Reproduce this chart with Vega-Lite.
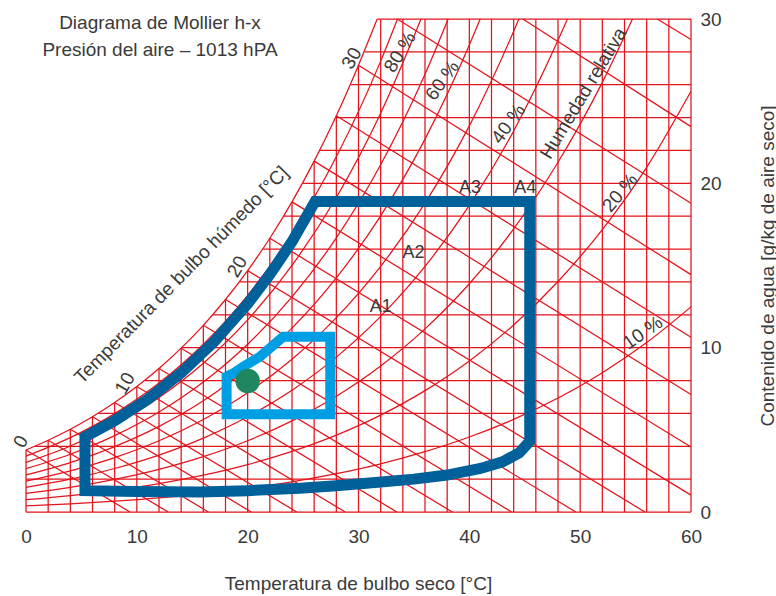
{
  "$schema": "https://vega.github.io/schema/vega-lite/v6.json",
  "width": 665,
  "height": 493,
  "autosize": {"type": "none"},
  "padding": {"left": 26, "top": 19, "right": 85, "bottom": 84},
  "background": "white",
  "config": {"view": {"stroke": null}, "font": "Liberation Sans"},
  "datasets": {
    "segs": [
      {"t": 0, "h": 0, "t2": 0, "h2": 3.775},
      {"t": 2, "h": 0, "t2": 2, "h2": 4.365},
      {"t": 4, "h": 0, "t2": 4, "h2": 5.032},
      {"t": 6, "h": 0, "t2": 6, "h2": 5.795},
      {"t": 8, "h": 0, "t2": 8, "h2": 6.659},
      {"t": 10, "h": 0, "t2": 10, "h2": 7.633},
      {"t": 12, "h": 0, "t2": 12, "h2": 8.729},
      {"t": 14, "h": 0, "t2": 14, "h2": 9.969},
      {"t": 16, "h": 0, "t2": 16, "h2": 11.36},
      {"t": 18, "h": 0, "t2": 18, "h2": 12.93},
      {"t": 20, "h": 0, "t2": 20, "h2": 14.69},
      {"t": 22, "h": 0, "t2": 22, "h2": 16.66},
      {"t": 24, "h": 0, "t2": 24, "h2": 18.87},
      {"t": 26, "h": 0, "t2": 26, "h2": 21.35},
      {"t": 28, "h": 0, "t2": 28, "h2": 24.11},
      {"t": 30, "h": 0, "t2": 30, "h2": 27.19},
      {"t": 32, "h": 0, "t2": 32, "h2": 30},
      {"t": 34, "h": 0, "t2": 34, "h2": 30},
      {"t": 36, "h": 0, "t2": 36, "h2": 30},
      {"t": 38, "h": 0, "t2": 38, "h2": 30},
      {"t": 40, "h": 0, "t2": 40, "h2": 30},
      {"t": 42, "h": 0, "t2": 42, "h2": 30},
      {"t": 44, "h": 0, "t2": 44, "h2": 30},
      {"t": 46, "h": 0, "t2": 46, "h2": 30},
      {"t": 48, "h": 0, "t2": 48, "h2": 30},
      {"t": 50, "h": 0, "t2": 50, "h2": 30},
      {"t": 52, "h": 0, "t2": 52, "h2": 30},
      {"t": 54, "h": 0, "t2": 54, "h2": 30},
      {"t": 56, "h": 0, "t2": 56, "h2": 30},
      {"t": 58, "h": 0, "t2": 58, "h2": 30},
      {"t": 60, "h": 0, "t2": 60, "h2": 30},
      {"t": 0, "h": 0, "t2": 60, "h2": 0},
      {"t": 0, "h": 2, "t2": 60, "h2": 2},
      {"t": 0.795, "h": 4, "t2": 60, "h2": 4},
      {"t": 6.51, "h": 6, "t2": 60, "h2": 6},
      {"t": 10.72, "h": 8, "t2": 60, "h2": 8},
      {"t": 14.07, "h": 10, "t2": 60, "h2": 10},
      {"t": 16.87, "h": 12, "t2": 60, "h2": 12},
      {"t": 19.27, "h": 14, "t2": 60, "h2": 14},
      {"t": 21.39, "h": 16, "t2": 60, "h2": 16},
      {"t": 23.27, "h": 18, "t2": 60, "h2": 18},
      {"t": 24.98, "h": 20, "t2": 60, "h2": 20},
      {"t": 26.53, "h": 22, "t2": 60, "h2": 22},
      {"t": 27.97, "h": 24, "t2": 60, "h2": 24},
      {"t": 29.29, "h": 26, "t2": 60, "h2": 26},
      {"t": 30.53, "h": 28, "t2": 60, "h2": 28},
      {"t": 31.69, "h": 30, "t2": 60, "h2": 30},
      {"t": 0, "h": 3.775, "t2": 9.385, "h2": 0},
      {"t": 2, "h": 4.365, "t2": 12.832, "h2": 0},
      {"t": 4, "h": 5.032, "t2": 16.463, "h2": 0},
      {"t": 6, "h": 5.795, "t2": 20.326, "h2": 0},
      {"t": 8, "h": 6.659, "t2": 24.432, "h2": 0},
      {"t": 10, "h": 7.633, "t2": 28.8, "h2": 0},
      {"t": 12, "h": 8.729, "t2": 33.459, "h2": 0},
      {"t": 14, "h": 9.969, "t2": 38.461, "h2": 0},
      {"t": 16, "h": 11.36, "t2": 43.822, "h2": 0},
      {"t": 18, "h": 12.93, "t2": 49.607, "h2": 0},
      {"t": 20, "h": 14.69, "t2": 55.841, "h2": 0},
      {"t": 22, "h": 16.66, "t2": 60, "h2": 1.026},
      {"t": 24, "h": 18.87, "t2": 60, "h2": 3.951},
      {"t": 26, "h": 21.35, "t2": 60, "h2": 7.15},
      {"t": 28, "h": 24.11, "t2": 60, "h2": 10.634},
      {"t": 30, "h": 27.19, "t2": 60, "h2": 14.445},
      {"t": 33.5, "h": 30, "t2": 60, "h2": 18.79},
      {"t": 44.82, "h": 30, "t2": 60, "h2": 23.45},
      {"t": 56.95, "h": 30, "t2": 60, "h2": 28.75}
    ],
    "curves": [
      {"c": "sat", "t": 0, "h": 3.775}, {"c": "sat", "t": 2, "h": 4.365}, {"c": "sat", "t": 4, "h": 5.032}, {"c": "sat", "t": 6, "h": 5.795}, {"c": "sat", "t": 8, "h": 6.659}, {"c": "sat", "t": 10, "h": 7.633}, {"c": "sat", "t": 12, "h": 8.729}, {"c": "sat", "t": 14, "h": 9.969}, {"c": "sat", "t": 16, "h": 11.36}, {"c": "sat", "t": 18, "h": 12.93}, {"c": "sat", "t": 20, "h": 14.69}, {"c": "sat", "t": 22, "h": 16.66}, {"c": "sat", "t": 24, "h": 18.87}, {"c": "sat", "t": 26, "h": 21.35}, {"c": "sat", "t": 28, "h": 24.11}, {"c": "sat", "t": 30, "h": 27.19}, {"c": "sat", "t": 31.69, "h": 30},
      {"c": "90", "t": 0, "h": 3.396}, {"c": "90", "t": 4, "h": 4.525}, {"c": "90", "t": 8, "h": 5.987}, {"c": "90", "t": 12, "h": 7.845}, {"c": "90", "t": 16, "h": 10.206}, {"c": "90", "t": 20, "h": 13.188}, {"c": "90", "t": 24, "h": 16.933}, {"c": "90", "t": 28, "h": 21.614}, {"c": "90", "t": 32, "h": 27.436}, {"c": "90", "t": 33.52, "h": 30},
      {"c": "80", "t": 0, "h": 3.017}, {"c": "80", "t": 4, "h": 4.019}, {"c": "80", "t": 8, "h": 5.316}, {"c": "80", "t": 12, "h": 6.964}, {"c": "80", "t": 16, "h": 9.055}, {"c": "80", "t": 20, "h": 11.696}, {"c": "80", "t": 24, "h": 15.007}, {"c": "80", "t": 28, "h": 19.139}, {"c": "80", "t": 32, "h": 24.268}, {"c": "80", "t": 35.64, "h": 30},
      {"c": "70", "t": 0, "h": 2.638}, {"c": "70", "t": 4, "h": 3.514}, {"c": "70", "t": 8, "h": 4.646}, {"c": "70", "t": 12, "h": 6.085}, {"c": "70", "t": 16, "h": 7.909}, {"c": "70", "t": 20, "h": 10.21}, {"c": "70", "t": 24, "h": 13.091}, {"c": "70", "t": 28, "h": 16.683}, {"c": "70", "t": 32, "h": 21.132}, {"c": "70", "t": 36, "h": 26.633}, {"c": "70", "t": 38.09, "h": 30},
      {"c": "60", "t": 0, "h": 2.26}, {"c": "60", "t": 4, "h": 3.01}, {"c": "60", "t": 8, "h": 3.978}, {"c": "60", "t": 12, "h": 5.208}, {"c": "60", "t": 16, "h": 6.767}, {"c": "60", "t": 20, "h": 8.731}, {"c": "60", "t": 24, "h": 11.187}, {"c": "60", "t": 28, "h": 14.245}, {"c": "60", "t": 32, "h": 18.025}, {"c": "60", "t": 36, "h": 22.689}, {"c": "60", "t": 40, "h": 28.412}, {"c": "60", "t": 40.98, "h": 30},
      {"c": "50", "t": 0, "h": 1.882}, {"c": "50", "t": 4, "h": 2.506}, {"c": "50", "t": 8, "h": 3.312}, {"c": "50", "t": 12, "h": 4.334}, {"c": "50", "t": 16, "h": 5.629}, {"c": "50", "t": 20, "h": 7.259}, {"c": "50", "t": 24, "h": 9.295}, {"c": "50", "t": 28, "h": 11.826}, {"c": "50", "t": 32, "h": 14.949}, {"c": "50", "t": 36, "h": 18.793}, {"c": "50", "t": 40, "h": 23.498}, {"c": "50", "t": 44, "h": 29.252}, {"c": "50", "t": 44.47, "h": 30},
      {"c": "40", "t": 0, "h": 1.505}, {"c": "40", "t": 4, "h": 2.003}, {"c": "40", "t": 8, "h": 2.647}, {"c": "40", "t": 12, "h": 3.463}, {"c": "40", "t": 16, "h": 4.495}, {"c": "40", "t": 20, "h": 5.793}, {"c": "40", "t": 24, "h": 7.414}, {"c": "40", "t": 28, "h": 9.425}, {"c": "40", "t": 32, "h": 11.902}, {"c": "40", "t": 36, "h": 14.945}, {"c": "40", "t": 40, "h": 18.657}, {"c": "40", "t": 44, "h": 23.184}, {"c": "40", "t": 48, "h": 28.7}, {"c": "40", "t": 48.85, "h": 30},
      {"c": "30", "t": 0, "h": 1.128}, {"c": "30", "t": 4, "h": 1.501}, {"c": "30", "t": 8, "h": 1.983}, {"c": "30", "t": 12, "h": 2.593}, {"c": "30", "t": 16, "h": 3.365}, {"c": "30", "t": 20, "h": 4.335}, {"c": "30", "t": 24, "h": 5.544}, {"c": "30", "t": 28, "h": 7.042}, {"c": "30", "t": 32, "h": 8.884}, {"c": "30", "t": 36, "h": 11.141}, {"c": "30", "t": 40, "h": 13.888}, {"c": "30", "t": 44, "h": 17.227}, {"c": "30", "t": 48, "h": 21.28}, {"c": "30", "t": 52, "h": 26.143}, {"c": "30", "t": 54.72, "h": 30},
      {"c": "20", "t": 0, "h": 0.751}, {"c": "20", "t": 4, "h": 1.0}, {"c": "20", "t": 8, "h": 1.321}, {"c": "20", "t": 12, "h": 1.727}, {"c": "20", "t": 16, "h": 2.239}, {"c": "20", "t": 20, "h": 2.883}, {"c": "20", "t": 24, "h": 3.685}, {"c": "20", "t": 28, "h": 4.677}, {"c": "20", "t": 32, "h": 5.895}, {"c": "20", "t": 36, "h": 7.384}, {"c": "20", "t": 40, "h": 9.191}, {"c": "20", "t": 44, "h": 11.38}, {"c": "20", "t": 48, "h": 14.027}, {"c": "20", "t": 52, "h": 17.188}, {"c": "20", "t": 56, "h": 20.971}, {"c": "20", "t": 60, "h": 25.6},
      {"c": "10", "t": 0, "h": 0.375}, {"c": "10", "t": 4, "h": 0.5}, {"c": "10", "t": 8, "h": 0.66}, {"c": "10", "t": 12, "h": 0.862}, {"c": "10", "t": 16, "h": 1.118}, {"c": "10", "t": 20, "h": 1.438}, {"c": "10", "t": 24, "h": 1.837}, {"c": "10", "t": 28, "h": 2.33}, {"c": "10", "t": 32, "h": 2.933}, {"c": "10", "t": 36, "h": 3.67}, {"c": "10", "t": 40, "h": 4.562}, {"c": "10", "t": 44, "h": 5.638}, {"c": "10", "t": 48, "h": 6.935}, {"c": "10", "t": 52, "h": 8.477}, {"c": "10", "t": 56, "h": 10.312}, {"c": "10", "t": 60, "h": 12.483}
    ],
    "zone": [
      {"o": 0, "t": 36, "h": 18.89}, {"o": 1, "t": 45.45, "h": 18.89}, {"o": 2, "t": 45.45, "h": 4.3}, {"o": 3, "t": 44.5, "h": 3.6}, {"o": 4, "t": 43, "h": 3.05}, {"o": 5, "t": 41, "h": 2.65}, {"o": 6, "t": 38, "h": 2.25}, {"o": 7, "t": 35, "h": 2.0}, {"o": 8, "t": 31.5, "h": 1.8}, {"o": 9, "t": 28, "h": 1.6}, {"o": 10, "t": 24.7, "h": 1.44}, {"o": 11, "t": 20, "h": 1.3}, {"o": 12, "t": 15.7, "h": 1.22}, {"o": 13, "t": 10, "h": 1.24}, {"o": 14, "t": 5.32, "h": 1.3}, {"o": 15, "t": 5.32, "h": 4.57}, {"o": 16, "t": 8, "h": 5.557}, {"o": 17, "t": 11, "h": 6.866}, {"o": 18, "t": 14, "h": 8.464}, {"o": 19, "t": 17, "h": 10.375}, {"o": 20, "t": 20, "h": 12.668}, {"o": 21, "t": 22, "h": 14.444}, {"o": 22, "t": 24, "h": 16.449}, {"o": 23, "t": 26.08, "h": 18.89}, {"o": 24, "t": 36, "h": 18.89}
    ],
    "room": [
      {"o": 0, "t": 22, "h": 5.95}, {"o": 1, "t": 27.45, "h": 5.95}, {"o": 2, "t": 27.45, "h": 10.67}, {"o": 3, "t": 23.2, "h": 10.67}, {"o": 4, "t": 22.1, "h": 10.02}, {"o": 5, "t": 21.1, "h": 9.45}, {"o": 6, "t": 19.6, "h": 8.84}, {"o": 7, "t": 18.7, "h": 8.44}, {"o": 8, "t": 18.1, "h": 8.24}, {"o": 9, "t": 18.1, "h": 5.95}, {"o": 10, "t": 22, "h": 5.95}
    ]
  },
  "encoding": {
    "x": {
      "field": "t", "type": "quantitative",
      "scale": {"domain": [0, 60], "nice": false, "zero": false},
      "axis": {
        "values": [0, 10, 20, 30, 40, 50, 60], "grid": false, "domain": false, "ticks": false,
        "labelFlush": false, "labelFontSize": 19, "labelColor": "#3a3a3a", "labelPadding": 15, "labelFont": "Liberation Sans",
        "title": "Temperatura de bulbo seco [°C]", "titleFontSize": 19, "titleFontWeight": "normal", "titleColor": "#3a3a3a", "titleFont": "Liberation Sans",
        "titleX": 332, "titleY": 71, "titleBaseline": "middle", "titleAlign": "center"
      }
    },
    "y": {
      "field": "h", "type": "quantitative",
      "scale": {"domain": [0, 30], "nice": false, "zero": false},
      "axis": {
        "orient": "right", "values": [0, 10, 20, 30], "grid": false, "domain": false, "ticks": false,
        "labelFontSize": 19, "labelColor": "#3a3a3a", "labelPadding": 9, "labelFont": "Liberation Sans",
        "title": "Contenido de agua [g/kg de aire seco]", "titleFontSize": 19, "titleFontWeight": "normal", "titleColor": "#3a3a3a", "titleFont": "Liberation Sans",
        "titleAngle": -90, "titleX": 76, "titleY": 246.5, "titleBaseline": "middle", "titleAlign": "center"
      }
    }
  },
  "layer": [
    {
      "data": {"name": "segs"},
      "mark": {"type": "rule", "color": "#e3131b", "strokeWidth": 1.25},
      "encoding": {"x2": {"field": "t2"}, "y2": {"field": "h2"}}
    },
    {
      "data": {"name": "curves"},
      "mark": {"type": "line", "color": "#e3131b", "strokeWidth": 1.25, "interpolate": "monotone"},
      "encoding": {"detail": {"field": "c"}}
    },
    {
      "data": {"name": "zone"},
      "mark": {"type": "line", "color": "#00609a", "strokeWidth": 11, "strokeJoin": "miter", "strokeCap": "square"},
      "encoding": {"order": {"field": "o", "type": "quantitative"}}
    },
    {
      "data": {"name": "room"},
      "mark": {"type": "line", "color": "#009fe3", "strokeWidth": 10, "strokeJoin": "miter", "strokeCap": "square"},
      "encoding": {"order": {"field": "o", "type": "quantitative"}}
    },
    {
      "data": {"values": [{"t": 20.0, "h": 7.97}]},
      "mark": {"type": "circle", "color": "#1e8760", "opacity": 1, "size": 600}
    },
    {
      "data": {"values": [{"txt": "Diagrama de Mollier h-x", "t": 12.09, "h": 29.76}, {"txt": "Presión del aire – 1013 hPA", "t": 12.09, "h": 28.12}]},
      "mark": {"type": "text", "fontSize": 19, "color": "#3a3a3a", "align": "center", "baseline": "middle"},
      "encoding": {"text": {"field": "txt"}}
    },
    {
      "data": {"values": [{"txt": "0", "t": -0.45, "h": 4.28}, {"txt": "10", "t": 8.94, "h": 7.83}, {"txt": "20", "t": 19.07, "h": 14.93}, {"txt": "30", "t": 29.4, "h": 27.61}]},
      "mark": {"type": "text", "fontSize": 19, "color": "#3a3a3a", "align": "center", "baseline": "middle", "angle": -60},
      "encoding": {"text": {"field": "txt"}}
    },
    {
      "data": {"values": [{"txt": "Temperatura de bulbo húmedo [°C]", "t": 14.03, "h": 14.42}]},
      "mark": {"type": "text", "fontSize": 19, "color": "#3a3a3a", "align": "center", "baseline": "middle", "angle": -45.5},
      "encoding": {"text": {"field": "txt"}}
    },
    {
      "data": {"values": [{"txt": "80 %", "t": 33.75, "h": 27.98}, {"txt": "Humedad relativa", "t": 50.3, "h": 25.48}]},
      "mark": {"type": "text", "fontSize": 19, "color": "#3a3a3a", "align": "center", "baseline": "middle", "angle": -59},
      "encoding": {"text": {"field": "txt"}}
    },
    {
      "data": {"values": [{"txt": "60 %", "t": 37.57, "h": 26.25}, {"txt": "40 %", "t": 43.53, "h": 23.62}]},
      "mark": {"type": "text", "fontSize": 19, "color": "#3a3a3a", "align": "center", "baseline": "middle", "angle": -54},
      "encoding": {"text": {"field": "txt"}}
    },
    {
      "data": {"values": [{"txt": "20 %", "t": 53.6, "h": 19.43}]},
      "mark": {"type": "text", "fontSize": 19, "color": "#3a3a3a", "align": "center", "baseline": "middle", "angle": -50},
      "encoding": {"text": {"field": "txt"}}
    },
    {
      "data": {"values": [{"txt": "10 %", "t": 55.66, "h": 10.91}]},
      "mark": {"type": "text", "fontSize": 19, "color": "#3a3a3a", "align": "center", "baseline": "middle", "angle": -35},
      "encoding": {"text": {"field": "txt"}}
    },
    {
      "data": {"values": [{"txt": "A1", "t": 32.01, "h": 12.5}, {"txt": "A2", "t": 34.96, "h": 15.75}, {"txt": "A3", "t": 40.07, "h": 19.7}, {"txt": "A4", "t": 45.04, "h": 19.7}]},
      "mark": {"type": "text", "fontSize": 18, "color": "#3a3a3a", "align": "center", "baseline": "middle"},
      "encoding": {"text": {"field": "txt"}}
    }
  ]
}
